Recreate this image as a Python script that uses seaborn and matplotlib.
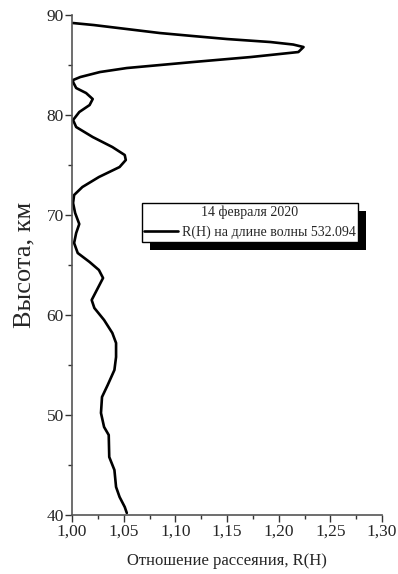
import numpy as np
import pandas as pd
import seaborn as sns
import matplotlib.pyplot as plt
from matplotlib.patches import Rectangle
from matplotlib.ticker import MultipleLocator

# altitude, km and scattering ratio
height = [40.2, 40.8, 41.8, 42.8, 44.5, 45.8, 48.0, 48.8, 50.2, 51.8,
          53.0, 54.5, 55.8, 57.2, 58.2, 59.5, 60.7, 61.5, 62.7, 63.7,
          64.5, 65.3, 66.2, 67.2, 68.2, 69.1, 70.2, 71.2, 72.0, 72.8,
          73.8, 74.8, 75.5, 76.0, 76.8, 77.8, 78.8, 79.5, 80.3, 81.0,
          81.6, 82.2, 82.7, 83.3, 83.5, 83.8, 84.3, 84.7, 85.0, 85.3,
          85.8, 86.3, 86.8, 87.05, 87.3, 87.6, 87.9, 88.2, 88.6, 89.0,
          89.2]
ratio = [1.053, 1.051, 1.046, 1.0426, 1.041, 1.036, 1.0355, 1.031, 1.028, 1.029,
         1.0345, 1.041, 1.0426, 1.0426, 1.039, 1.031, 1.0216, 1.019, 1.025, 1.030,
         1.026, 1.017, 1.0055, 1.002, 1.004, 1.007, 1.003, 1.001, 1.002, 1.010,
         1.026, 1.046, 1.052, 1.051, 1.039, 1.020, 1.004, 1.001, 1.007, 1.017,
         1.020, 1.0136, 1.004, 1.001, 1.001, 1.008, 1.027, 1.053, 1.085, 1.117,
         1.173, 1.219, 1.224, 1.214, 1.192, 1.150, 1.117, 1.085, 1.053, 1.021,
         1.001]

legend_title = "14 февраля 2020"
series_name = "R(H) на длине волны 532.094"

df = pd.DataFrame({"H": height, "R": ratio})

sns.set_style("ticks")
plt.rcParams['font.family'] = ['Liberation Serif', 'DejaVu Serif']

fig = plt.figure(figsize=(3.98, 5.74), dpi=100)
ax = fig.add_axes([0.181, 0.1028, 0.779, 0.871])

sns.lineplot(data=df, x="R", y="H", orient="y", sort=False, color="black",
             linewidth=1.9, label=series_name, ax=ax)

ax.set_xlim(1.0, 1.3)
ax.set_ylim(40, 90)
ax.xaxis.set_major_locator(MultipleLocator(0.05))
ax.xaxis.set_minor_locator(MultipleLocator(0.025))
ax.yaxis.set_major_locator(MultipleLocator(10))
ax.yaxis.set_minor_locator(MultipleLocator(5))
ax.xaxis.set_major_formatter(lambda v, p: f"{v:.2f}".replace(".", ","))

for s in ["top", "right"]:
    ax.spines[s].set_visible(False)
for s in ["left", "bottom"]:
    ax.spines[s].set_color("#555555")
    ax.spines[s].set_linewidth(1.2)
ax.tick_params(which="major", length=5, width=1, color="#333333", labelsize=12.5, pad=1)
ax.tick_params(which="minor", length=3, width=1, color="#333333")

ax.set_xlabel("Отношение рассеяния, R(H)", fontsize=12, labelpad=10)
ax.set_ylabel("Высота, км", fontsize=19, labelpad=8)

leg = ax.legend(title=legend_title, loc="center", bbox_to_anchor=(0.574, 0.585),
                fancybox=False, edgecolor="black", framealpha=1, fontsize=10,
                title_fontsize=10, handlelength=2.4, borderpad=0.2,
                handletextpad=0.3, borderaxespad=0)
leg.get_frame().set_linewidth(1)
leg.set_zorder(10)

# offset black shadow behind the legend box
fig.canvas.draw()
bb = leg.get_window_extent().transformed(fig.transFigure.inverted())
dx, dy = 8 / fig.bbox.width, 8 / fig.bbox.height
shadow = Rectangle((bb.x0 + dx, bb.y0 - dy), bb.width, bb.height,
                   transform=fig.transFigure, facecolor="black",
                   edgecolor="none", zorder=9, clip_on=False)
ax.add_patch(shadow)

fig.savefig("out.png", dpi=100)
